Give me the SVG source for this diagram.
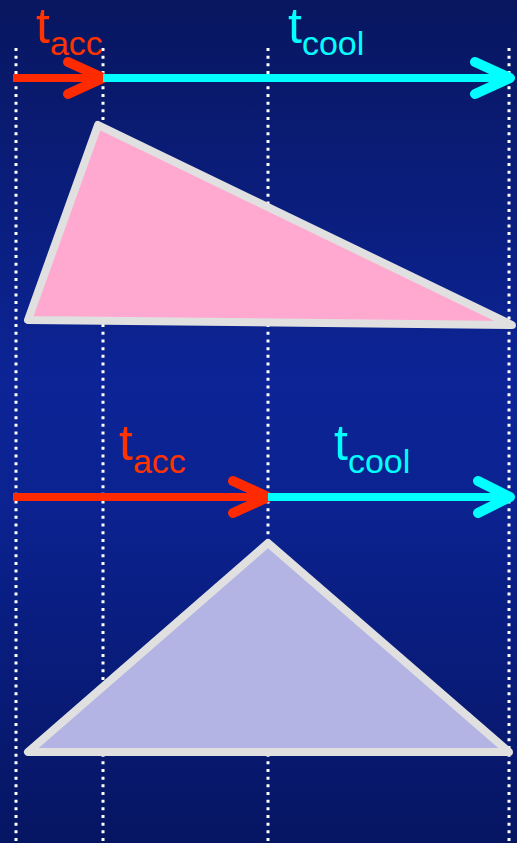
<svg xmlns="http://www.w3.org/2000/svg" width="517" height="843" viewBox="0 0 517 843">
<defs>
<linearGradient id="bg" x1="0" y1="0" x2="0" y2="1">
<stop offset="0" stop-color="#08165f"/>
<stop offset="0.45" stop-color="#0c2496"/>
<stop offset="0.6" stop-color="#0b2290"/>
<stop offset="1" stop-color="#061562"/>
</linearGradient>
</defs>
<style>
.dot{stroke:#ffffff;stroke-width:3;stroke-dasharray:3 4.67;fill:none}
.tri{stroke:#e0e0e0;stroke-width:8;stroke-linejoin:round}
.shaft{stroke-width:8;fill:none}
.head{stroke-width:10;fill:none;stroke-linecap:round;stroke-linejoin:round}
.red{stroke:#ff2a00}
.cyan{stroke:#00ffff}
.lbl{font-family:"Liberation Sans",Arial,sans-serif;font-size:50px}
.sub{font-size:34px}
</style>
<rect width="517" height="843" fill="url(#bg)"/>
<g id="guides">
<line class="dot" x1="16" y1="48" x2="16" y2="843"/>
<line class="dot" x1="103" y1="48" x2="103" y2="843"/>
<line class="dot" x1="268" y1="48" x2="268" y2="843"/>
<line class="dot" x1="509" y1="48" x2="509" y2="843"/>
</g>
<g id="triangle-top">
<polygon class="tri" fill="#ffa8d0" points="98,125 28,320 512,325"/>
</g>
<g id="triangle-bottom">
<polygon class="tri" fill="#b4b4e4" points="268,543 28,752 509,752"/>
</g>
<g id="connectors">
<line class="shaft red" x1="13" y1="78" x2="103" y2="78"/>
<polyline class="head red" points="68,62 103,78 68,94"/>
<line class="shaft cyan" x1="103" y1="78" x2="510" y2="78"/>
<polyline class="head cyan" points="475,62 510,78 475,94"/>
<line class="shaft red" x1="13" y1="497" x2="268" y2="497"/>
<polyline class="head red" points="233,481 268,497 233,513"/>
<line class="shaft cyan" x1="268" y1="497" x2="510" y2="497"/>
<polyline class="head cyan" points="478,481 510,497 478,513"/>
</g>
<g id="labels">
<text class="lbl" x="36" y="43" fill="#ff3300">t<tspan class="sub" dy="12">acc</tspan></text>
<text class="lbl" x="288" y="43" fill="#00ffff">t<tspan class="sub" dy="12">cool</tspan></text>
<text class="lbl" x="119" y="460" fill="#ff3300">t<tspan class="sub" dy="13">acc</tspan></text>
<text class="lbl" x="334" y="460" fill="#00ffff">t<tspan class="sub" dy="13">cool</tspan></text>
</g>
</svg>
